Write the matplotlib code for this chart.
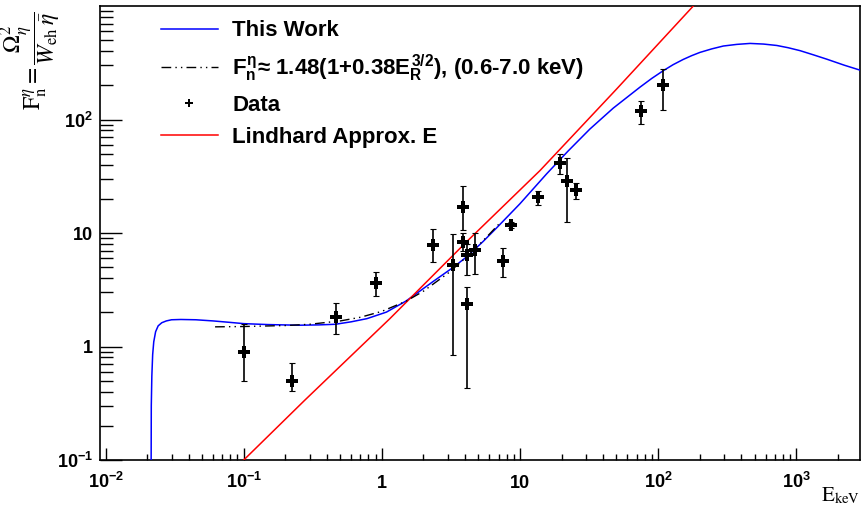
import numpy as np
import matplotlib
matplotlib.use("Agg")
from matplotlib import pyplot as plt
from matplotlib.ticker import FixedLocator, NullFormatter, LogLocator

plt.rcParams["font.family"] = ["Liberation Sans", "DejaVu Sans"]
plt.rcParams["mathtext.fontset"] = "custom"
plt.rcParams["mathtext.rm"] = "Liberation Sans:bold"
plt.rcParams["mathtext.bf"] = "Liberation Sans:bold"
plt.rcParams["mathtext.it"] = "Liberation Sans:bold"

# "This Work" model curve
work_e = [0.02135, 0.0214, 0.0216, 0.0219, 0.0223, 0.0230, 0.0240, 0.0255, 0.0275,
          0.030, 0.035, 0.045, 0.06, 0.08, 0.1, 0.15, 0.25, 0.35, 0.46, 0.6, 0.78,
          1.08, 1.5, 2.36, 3.3, 4.1, 5.4, 6.78, 10, 15.6, 22.3, 32.1, 47.4, 74.1,
          90, 109, 128.5, 152, 175, 201, 245, 297, 372, 464, 580, 724, 875, 1069,
          1327, 1667, 2229, 2993]
work_f = [0.1, 0.3, 0.55, 0.85, 1.1, 1.35, 1.52, 1.62, 1.68,
          1.72, 1.73, 1.72, 1.68, 1.63, 1.59, 1.56, 1.54, 1.55, 1.57, 1.65, 1.76,
          2.01, 2.52, 3.75, 5.0, 6.15, 8.4, 11.1, 18.1, 33.2, 52.7, 82.4, 126, 193,
          230, 269, 304, 338, 365, 390, 419, 444, 459, 468, 462, 449, 429, 404,
          372, 340, 301, 269]

# empirical fit, 0.6-7 keV band (drawn a bit wider in the picture)
fit_e = [0.062, 0.1, 0.2, 0.3, 0.5, 0.7, 1.0, 1.5, 2, 3, 4, 5, 6, 7]
fit_f = [1.49, 1.50, 1.53, 1.57, 1.68, 1.81, 2.04, 2.51, 3.07, 4.40, 5.98, 7.77, 9.75, 11.9]

# Lindhard approximation line
lind_e = [0.1, 0.277, 1.143, 4.2, 13.97, 50.2, 180]
lind_f = [0.1, 0.337, 1.76, 8.6, 35.5, 186, 1000]

# data points with asymmetric errors (low, high)
data_e = [0.1, 0.223, 0.466, 0.905, 2.36, 3.29, 3.88, 3.88, 4.15, 4.15, 4.7,
          7.54, 8.65, 13.6, 19.5, 21.8, 25.3, 75.8, 108]
data_f = [0.886, 0.50, 1.81, 3.66, 7.78, 5.19, 17.1, 8.4, 6.35, 2.36, 7.13,
          5.7, 11.8, 20.6, 41.4, 29.0, 23.8, 119, 201]
data_lo = [0.50, 0.405, 1.29, 2.76, 5.55, 0.838, 10.7, 6.9, 4.24, 0.43, 4.39,
           4.07, 11.0, 17.8, 33.1, 12.5, 19.8, 91.5, 121]
data_hi = [1.59, 0.71, 2.40, 4.49, 10.9, 9.72, 26.2, 10.0, 8.0, 3.35, 9.98,
           7.33, 12.6, 23.6, 49.2, 45.7, 27.6, 146, 277]

x_ticks = [1e-2, 1e-1, 1, 10, 1e2, 1e3]
x_tick_labels = [r"$10^{-2}$", r"$10^{-1}$", "1", "10", r"$10^{2}$", r"$10^{3}$"]
y_ticks = [1e-1, 1, 10, 1e2]
y_tick_labels = [r"$10^{-1}$", "1", "10", r"$10^{2}$"]

fig = plt.figure(figsize=(8.62, 5.09), dpi=100)
ax = fig.add_axes([100 / 862, 1 - 460 / 509, 760 / 862, 454 / 509])
ax.set_xscale("log")
ax.set_yscale("log")
ax.set_xlim(0.0091, 2900)
ax.set_ylim(0.1, 1000)

ax.plot(work_e, work_f, color="#0000ff", lw=1.1, label="This Work", zorder=3)
ax.plot(fit_e, fit_f, color="black", lw=1.0, linestyle=(0, (7, 3, 1, 3, 1, 3)),
        label=r"$F_{n}^{\eta}$≈ 1.48(1+0.38$E_{R}^{3/2}$), (0.6-7.0 keV)", zorder=4)
err = [np.array(data_f) - np.array(data_lo), np.array(data_hi) - np.array(data_f)]
ax.errorbar(data_e, data_f, yerr=err, fmt="none", ecolor="black", elinewidth=1.2,
            capsize=2.5, capthick=0.8, zorder=5)
ax.plot(data_e, data_f, linestyle="none", marker="P", markersize=9, color="black",
        markeredgewidth=0, label="Data", zorder=6)
ax.plot(lind_e, lind_f, color="#ff0000", lw=1.1, label="Lindhard Approx. E", zorder=3)

# ticks ROOT style: inside, left and bottom only
ax.xaxis.set_major_locator(FixedLocator(x_ticks))
ax.yaxis.set_major_locator(FixedLocator(y_ticks))
ax.xaxis.set_minor_locator(LogLocator(base=10, subs=np.arange(2, 10)))
ax.yaxis.set_minor_locator(LogLocator(base=10, subs=np.arange(2, 10)))
ax.xaxis.set_minor_formatter(NullFormatter())
ax.yaxis.set_minor_formatter(NullFormatter())
ax.tick_params(axis="x", which="major", direction="in", length=9, width=1, labelbottom=False)
ax.tick_params(axis="x", which="minor", direction="in", length=4.5, width=1)
ax.tick_params(axis="y", which="major", direction="in", length=16, width=1, pad=5)
ax.tick_params(axis="y", which="minor", direction="in", length=9, width=1)
ax.set_yticklabels(y_tick_labels, fontsize=13, fontweight="bold")
for s in ax.spines.values():
    s.set_linewidth(1.2)

# x tick labels on a common baseline
xlab_tr = matplotlib.transforms.blended_transform_factory(ax.transData, ax.transAxes)
for t, lab in zip(x_ticks, x_tick_labels):
    ax.text(t, -0.062, lab, transform=xlab_tr, ha="center", va="baseline",
            fontsize=13, fontweight="bold")

leg = ax.legend(loc="upper left", bbox_to_anchor=(0.068, 0.988), frameon=False,
                fontsize=16, handlelength=2.6, handletextpad=0.62, labelspacing=0.5,
                markerscale=0.65, borderaxespad=0)
for txt in leg.get_texts():
    txt.set_fontweight("bold")

fig.text(31 / 862, 1 - 61 / 509,
         r"$\mathrm{F}_{\mathrm{n}}^{\eta} = \dfrac{\Omega_{\eta}^{2}}{W_{\mathrm{eh}}\,\bar{\eta}}$",
         rotation=90, ha="center", va="center", fontsize=17, fontweight="normal",
         math_fontfamily="stix")
fig.text(860 / 862, 3 / 509, r"$\mathrm{E}_{\mathrm{keV}}$", ha="right", va="bottom",
         fontsize=15, fontweight="normal", math_fontfamily="stix")

fig.savefig("out.png", dpi=100)
